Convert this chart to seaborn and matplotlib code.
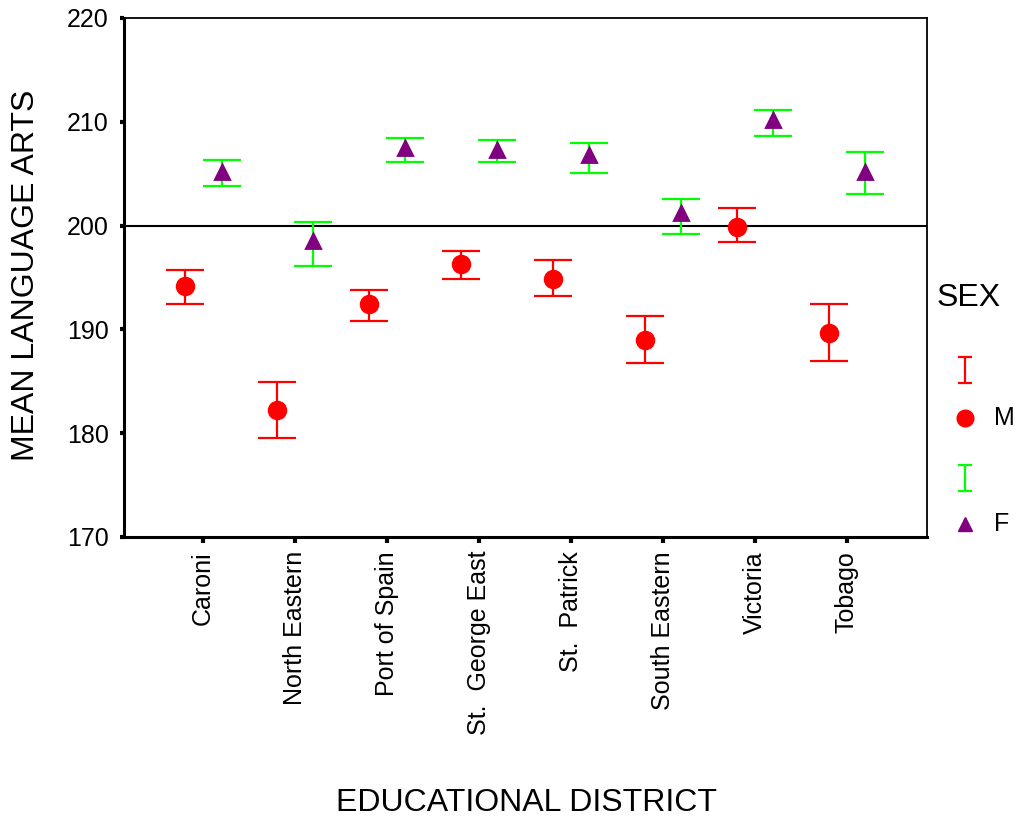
import numpy as np
import pandas as pd
import matplotlib
matplotlib.use("Agg")
import matplotlib.pyplot as plt
import seaborn as sns

# Data: means and 95% CI bounds per district and sex
districts = ['Caroni', 'North Eastern', 'Port of Spain', 'St.  George East',
             'St.  Patrick', 'South Eastern', 'Victoria', 'Tobago']
male_mean = [194.2, 182.2, 192.4, 196.3, 194.9, 189.0, 199.9, 189.7]
male_low = [192.4, 179.5, 190.8, 194.9, 193.2, 186.8, 198.4, 187.0]
male_high = [195.7, 184.9, 193.8, 197.6, 196.7, 191.3, 201.7, 192.4]
female_mean = [205.2, 198.5, 207.5, 207.3, 206.8, 201.2, 210.2, 205.2]
female_low = [203.8, 196.1, 206.1, 206.1, 205.1, 199.2, 208.6, 203.0]
female_high = [206.3, 200.3, 208.4, 208.2, 208.0, 202.6, 211.1, 207.1]
reference = 200
y_ticks = [170, 180, 190, 200, 210, 220]

sns.set_theme(style="white")
plt.rcParams['font.family'] = ['Liberation Sans', 'DejaVu Sans']
plt.rcParams['text.color'] = 'black'

df = pd.DataFrame({
    'district': districts * 2,
    'sex': ['M'] * len(districts) + ['F'] * len(districts),
    'score': male_mean + female_mean,
})

RED = '#FF0000'
GREEN = '#00FF00'
PURPLE = '#800080'

fig = plt.figure(figsize=(10.21, 8.19), dpi=100)
ax = fig.add_axes([124 / 1021, 1 - 537 / 819, (927 - 124) / 1021, (537 - 18) / 819])

# error bars (CI) at dodged positions
x = np.arange(len(districts))
off = 0.2
ax.errorbar(x - off, male_mean,
            yerr=[np.subtract(male_mean, male_low), np.subtract(male_high, male_mean)],
            fmt='none', ecolor=RED, elinewidth=1.6, capsize=14, capthick=1.6, zorder=2)
ax.errorbar(x + off, female_mean,
            yerr=[np.subtract(female_mean, female_low), np.subtract(female_high, female_mean)],
            fmt='none', ecolor=GREEN, elinewidth=1.6, capsize=14, capthick=1.6, zorder=2)

# mean markers
sns.pointplot(data=df, x='district', y='score', hue='sex', hue_order=['M', 'F'],
              order=districts, palette={'M': RED, 'F': PURPLE}, markers=['o', '^'],
              linestyle='none', errorbar=None, dodge=0.4, legend=False, ax=ax,
              markersize=12)
for ln in ax.lines:
    if ln.get_marker() == '^':
        ln.set_markersize(10)
    ln.set_zorder(3)

ax.axhline(reference, color='black', lw=1.5, zorder=1)

ax.set_ylim(170, 220)
ax.set_xlim(-0.86, 7.87)
ax.set_yticks(y_ticks)
ax.set_xlabel('')
ax.set_ylabel('')
ax.tick_params(axis='y', labelsize=18, direction='out', length=3, width=3,
               left=True, colors='black', pad=8)
ax.tick_params(axis='x', labelsize=18, direction='out', length=4, width=3,
               bottom=True, colors='black', pad=6)
plt.setp(ax.get_xticklabels(), rotation=90, ha='center', va='top')

for side in ['left', 'bottom']:
    ax.spines[side].set_linewidth(2.2)
    ax.spines[side].set_color('black')
for side in ['top', 'right']:
    ax.spines[side].set_linewidth(1.3)
    ax.spines[side].set_color('black')

fig.text(26 / 1021, 1 - 275 / 819, 'MEAN LANGUAGE ARTS', rotation=90,
         ha='center', va='center', fontsize=23, color='black')
fig.text(526 / 1021, 1 - 803 / 819, 'EDUCATIONAL DISTRICT',
         ha='center', va='center', fontsize=23, color='black')

# legend drawn in pixel space
leg = fig.add_axes([0, 0, 1, 1], facecolor='none')
leg.set_xlim(0, 1021)
leg.set_ylim(819, 0)
leg.axis('off')
leg.text(937, 298, 'SEX', fontsize=23, ha='left', va='center', color='black')
leg.errorbar([965], [370], yerr=[[13], [13]], fmt='none', ecolor=RED,
             elinewidth=1.6, capsize=5, capthick=1.6)
leg.plot([965], [418], marker='o', color=RED, markersize=12, linestyle='none')
leg.text(994, 418, 'M', fontsize=18, ha='left', va='center', color='black')
leg.errorbar([965], [478], yerr=[[13], [13]], fmt='none', ecolor=GREEN,
             elinewidth=1.6, capsize=5, capthick=1.6)
leg.plot([965], [524], marker='^', color=PURPLE, markersize=10, linestyle='none')
leg.text(994, 524, 'F', fontsize=18, ha='left', va='center', color='black')

fig.savefig('out.png', dpi=100)
